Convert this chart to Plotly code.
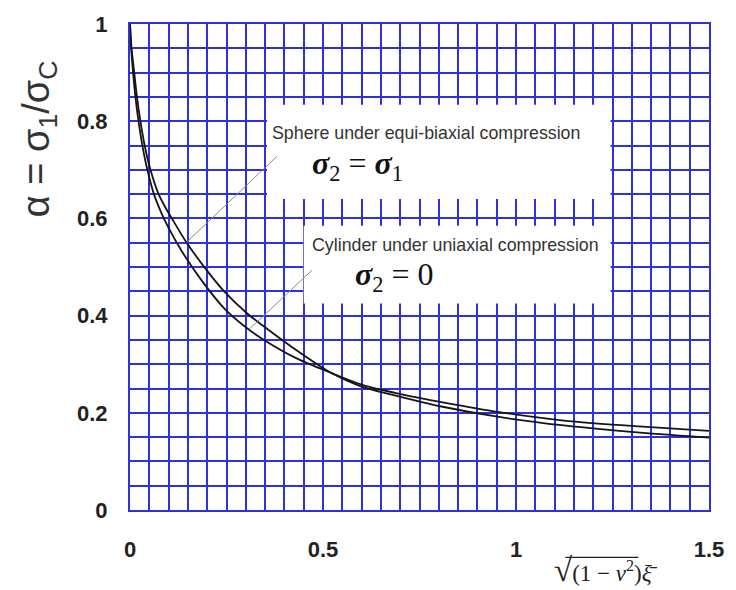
import plotly.graph_objects as go

# Knock-down factor versus normalised imperfection amplitude
sphere_x = [0.0, 0.004, 0.011, 0.018, 0.027, 0.038, 0.053, 0.073, 0.090, 0.107, 0.146,
            0.201, 0.244, 0.300, 0.343, 0.420, 0.515, 0.600, 0.686, 0.746, 0.800, 0.952,
            1.124, 1.338, 1.500]
sphere_y = [1.000, 0.950, 0.900, 0.850, 0.800, 0.750, 0.700, 0.652, 0.625, 0.602, 0.551,
            0.491, 0.450, 0.407, 0.380, 0.335, 0.285, 0.254, 0.236, 0.224, 0.214, 0.192,
            0.174, 0.158, 0.149]

cylinder_x = [0.0, 0.003, 0.008, 0.014, 0.022, 0.032, 0.045, 0.062, 0.082, 0.099, 0.133,
              0.184, 0.244, 0.300, 0.343, 0.429, 0.515, 0.600, 0.686, 0.746, 0.800, 0.952,
              1.124, 1.338, 1.500]
cylinder_y = [1.000, 0.950, 0.900, 0.850, 0.800, 0.750, 0.700, 0.650, 0.610, 0.582, 0.534,
              0.474, 0.415, 0.376, 0.352, 0.313, 0.284, 0.258, 0.241, 0.231, 0.223, 0.202,
              0.184, 0.171, 0.163]

x_ticks = [0, 0.5, 1, 1.5]
x_tick_text = ["0", "0.5", "1", "1.5"]
y_ticks = [0, 0.2, 0.4, 0.6, 0.8, 1]
y_tick_text = ["0", "0.2", "0.4", "0.6", "0.8", "1"]

GRID = "rgb(48,48,222)"
SANS = "Liberation Sans, Arial, sans-serif"
SERIF = "Liberation Serif, Times New Roman, serif"
TICK_FONT = dict(family=SANS, size=22, color="#222222", weight="bold")

fig = go.Figure()
for xs, ys in ((sphere_x, sphere_y), (cylinder_x, cylinder_y)):
    fig.add_trace(go.Scatter(x=xs, y=ys, mode="lines",
                             line=dict(color="#151515", width=1.8, shape="spline", smoothing=0.8),
                             showlegend=False, hoverinfo="skip"))

axis_common = dict(showgrid=True, gridcolor=GRID, gridwidth=2, zeroline=False,
                   showline=True, linecolor=GRID, linewidth=2, mirror=True,
                   ticks="", tickfont=TICK_FONT,
                   minor=dict(dtick=0.05, showgrid=True, gridcolor=GRID, gridwidth=2))

fig.update_xaxes(range=[0, 1.5], tickvals=x_ticks, ticktext=x_tick_text,
                 ticklabelstandoff=19, **axis_common)
fig.update_yaxes(range=[0, 1], tickvals=y_ticks, ticktext=y_tick_text,
                 ticklabelstandoff=16, **axis_common)

# White label panels over the grid
fig.add_shape(type="rect", xref="x", yref="y", x0=0.355, x1=1.245, y0=0.640, y1=0.834,
              fillcolor="white", line=dict(width=0), layer="above")
fig.add_shape(type="rect", xref="x", yref="y", x0=0.450, x1=1.245, y0=0.425, y1=0.585,
              fillcolor="white", line=dict(width=0), layer="above")

# Leader lines from the labels to the curves
fig.add_shape(type="line", xref="x", yref="y", x0=0.381, y0=0.728, x1=0.147, y1=0.551,
              line=dict(color="#8a8a8a", width=1), layer="above")
fig.add_shape(type="line", xref="x", yref="y", x0=0.471, y0=0.493, x1=0.309, y1=0.372,
              line=dict(color="#8a8a8a", width=1), layer="above")

label_font = dict(family=SANS, size=17.8, color="#333333")
math_font = dict(family=SERIF, size=32, color="#111111")

fig.add_annotation(xref="x", yref="y", x=0.363, y=0.776, xanchor="left", yanchor="middle",
                   text="Sphere under equi-biaxial compression", showarrow=False, font=label_font)
fig.add_annotation(xref="x", yref="y", x=0.466, y=0.708, xanchor="left", yanchor="middle",
                   text="<b><i>σ</i></b><sub>2</sub> = <b><i>σ</i></b><sub>1</sub>",
                   showarrow=False, font=math_font)
fig.add_annotation(xref="x", yref="y", x=0.466, y=0.546, xanchor="left", yanchor="middle",
                   text="Cylinder under uniaxial compression", showarrow=False, font=label_font)
fig.add_annotation(xref="x", yref="y", x=0.578, y=0.480, xanchor="left", yanchor="middle",
                   text="<b><i>σ</i></b><sub>2</sub> = 0", showarrow=False, font=math_font)

# Axis titles
fig.add_annotation(xref="paper", yref="paper", x=-0.158, y=0.764, xanchor="center",
                   yanchor="middle", textangle=-90, showarrow=False,
                   text="α = σ<sub>1</sub>/σ<sub>C</sub>",
                   font=dict(family=SANS, size=38, color="#333333"))
fig.add_annotation(xref="paper", yref="paper", x=0.728, y=-0.124, xanchor="left",
                   yanchor="middle", showarrow=False,
                   text="<span style='font-size:33px'>√</span>(1 − <i>ν</i><sup>2</sup>)<i>ξ̄</i>",
                   font=dict(family=SERIF, size=23, color="#222222"))
# radical overbar
fig.add_shape(type="line", xref="paper", yref="paper", x0=0.752, x1=0.878, y0=-0.0975,
              y1=-0.0975, line=dict(color="#222222", width=1.2))

fig.update_layout(width=736, height=590, plot_bgcolor="white", paper_bgcolor="white",
                  margin=dict(l=130, r=23, t=19, b=80))

fig.write_html("out.html")
